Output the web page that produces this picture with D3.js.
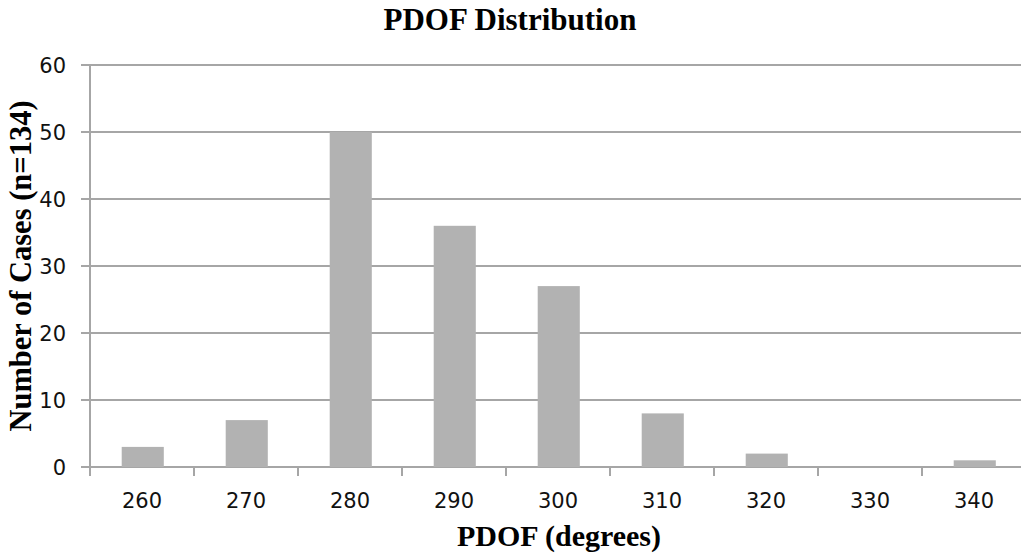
<!DOCTYPE html>
<html>
<head>
<meta charset="utf-8">
<script src="https://cdn.jsdelivr.net/npm/d3@7"></script>
<style>
  html, body { margin: 0; padding: 0; background: #fff; }
  svg { display: block; }
</style>
</head>
<body>
<svg id="chart" width="1021" height="556"></svg>
<script>
const categories = ["260", "270", "280", "290", "300", "310", "320", "330", "340"];
const counts = [3, 7, 50, 36, 27, 8, 2, 0, 1];
const yTicks = [0, 10, 20, 30, 40, 50, 60];
const title = "PDOF Distribution";
const xTitle = "PDOF (degrees)";
const yTitle = "Number of Cases (n=134)";

const svg = d3.select("#chart");
const margin = { left: 90, top: 65, bottom: 467 };
const bandW = 104;
const right = margin.left + bandW * categories.length;

const x = d3.scaleBand().domain(categories).range([margin.left, right]).paddingInner(0.6).paddingOuter(0.3);
const xOuter = d3.scaleBand().domain(categories).range([margin.left, right]);
const y = d3.scaleLinear().domain([0, 60]).range([margin.bottom, margin.top]);

const gridColor = "#a6a6a6";

// gridlines
svg.append("g").selectAll("line").data(yTicks).join("line")
  .attr("x1", margin.left - 9).attr("x2", right)
  .attr("y1", d => y(d)).attr("y2", d => y(d))
  .attr("stroke", gridColor).attr("stroke-width", 2);

// bars
svg.append("g").selectAll("rect").data(categories).join("rect")
  .attr("x", (d) => x(d) + 0.5)
  .attr("width", x.bandwidth() + 0.5)
  .attr("y", (d, i) => y(counts[i]))
  .attr("height", (d, i) => y(0) - y(counts[i]))
  .attr("fill", "#b2b2b2");

// y axis line
svg.append("line")
  .attr("x1", margin.left).attr("x2", margin.left)
  .attr("y1", margin.top).attr("y2", margin.bottom + 9)
  .attr("stroke", gridColor).attr("stroke-width", 2);

// x-axis tick marks at band boundaries
const boundaries = categories.map(c => xOuter(c)).concat([right]);
svg.append("g").selectAll("line").data(boundaries).join("line")
  .attr("x1", d => d).attr("x2", d => d)
  .attr("y1", margin.bottom).attr("y2", margin.bottom + 9)
  .attr("stroke", gridColor).attr("stroke-width", 2);

// y tick labels
svg.append("g").selectAll("text").data(yTicks).join("text")
  .attr("x", 66).attr("y", d => y(d))
  .attr("dy", "0.36em")
  .attr("text-anchor", "end")
  .style("font-family", "'DejaVu Sans', Tahoma, sans-serif")
  .style("font-size", "21px")
  .attr("fill", "#111")
  .text(d => d);

// x tick labels
svg.append("g").selectAll("text").data(categories).join("text")
  .attr("x", d => xOuter(d) + xOuter.bandwidth() / 2)
  .attr("y", 508)
  .attr("text-anchor", "middle")
  .style("font-family", "'DejaVu Sans', Tahoma, sans-serif")
  .style("font-size", "21px")
  .attr("fill", "#111")
  .text(d => d);

const serif = "'Liberation Serif', 'Times New Roman', serif";
svg.append("text")
  .attr("x", 510).attr("y", 30)
  .attr("text-anchor", "middle")
  .style("font-family", serif).style("font-weight", "bold").style("font-size", "31px")
  .attr("fill", "#000")
  .text(title);

svg.append("text")
  .attr("x", 559).attr("y", 546)
  .attr("text-anchor", "middle")
  .style("font-family", serif).style("font-weight", "bold").style("font-size", "30px")
  .attr("fill", "#000")
  .text(xTitle);

svg.append("text")
  .attr("transform", "translate(31,266) rotate(-90)")
  .attr("text-anchor", "middle")
  .style("font-family", serif).style("font-weight", "bold").style("font-size", "30.5px")
  .attr("fill", "#000")
  .text(yTitle);
</script>
</body>
</html>
